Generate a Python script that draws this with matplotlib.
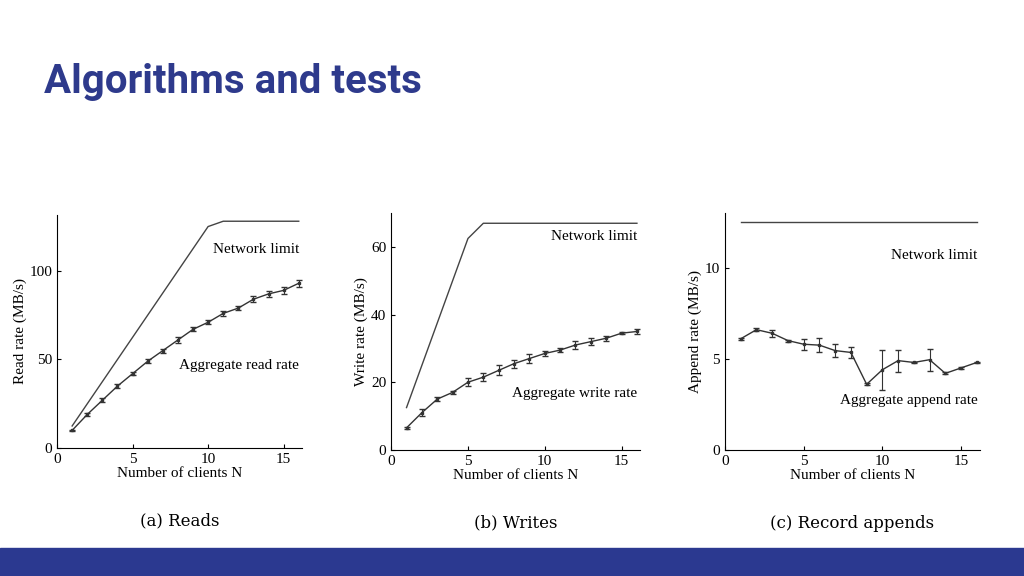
import matplotlib
matplotlib.use("Agg")
import matplotlib.pyplot as plt

clients = list(range(1, 17))

# (a) reads
read_rate = [10, 19, 27, 35, 42, 49, 55, 61, 67, 71, 76, 79, 84, 87, 89, 93]
read_err = [0.5, 0.8, 1, 1.2, 1, 1, 1.2, 1.5, 1.2, 1, 1.2, 1.2, 1.8, 1.5, 1.8, 2]
read_net_x = [1, 10, 11, 16]
read_net_y = [12.5, 125, 128, 128]

# (b) writes
write_rate = [6.5, 11, 15, 17, 20, 21.5, 23.5, 25.5, 27, 28.5, 29.5, 31, 32, 33, 34.5, 35]
write_err = [0.3, 1, 0.6, 0.5, 1.2, 1.2, 1.5, 1.2, 1.2, 0.8, 0.6, 1.2, 1, 0.8, 0.3, 0.6]
write_net_x = [1, 5, 6, 16]
write_net_y = [12.5, 62.5, 67, 67]

# (c) record appends
append_rate = [6.1, 6.6, 6.4, 6.0, 5.8, 5.75, 5.45, 5.35, 3.6, 4.4, 4.9, 4.8, 4.95, 4.2, 4.5, 4.8]
append_err = [0.05, 0.1, 0.2, 0.05, 0.3, 0.4, 0.35, 0.3, 0.05, 1.1, 0.6, 0.05, 0.6, 0.05, 0.05, 0.05]
append_net_x = [1, 16]
append_net_y = [12.5, 12.5]

plt.rcParams["font.family"] = "Liberation Serif"
fig = plt.figure(figsize=(10.24, 5.76), dpi=100)
fig.patch.set_facecolor("white")

fig.text(0.043, 0.857, "Algorithms and tests", fontsize=29, fontweight="bold",
         color="#2e3a8c", family="Roboto", va="center")
fig.patches.append(plt.Rectangle((0, 0), 1, 28 / 576, transform=fig.transFigure,
                                 color="#2b3990", zorder=0))

panels = [
    ([0.0557, 0.222, 0.239, 0.405], read_rate, read_err, read_net_x, read_net_y,
     (0, 131.6), [0, 50, 100], "Read rate (MB/s)", "Aggregate read rate", 0.355,
     0.85, "(a) Reads"),
    ([0.382, 0.219, 0.243, 0.411], write_rate, write_err, write_net_x, write_net_y,
     (0, 70), [0, 20, 40, 60], "Write rate (MB/s)", "Aggregate write rate", 0.24,
     0.9, "(b) Writes"),
    ([0.708, 0.219, 0.249, 0.411], append_rate, append_err, append_net_x, append_net_y,
     (0, 13), [0, 5, 10], "Append rate (MB/s)", "Aggregate append rate", 0.21,
     0.82, "(c) Record appends"),
]

for rect, y, err, nx, ny, ylim, yticks, ylabel, agg, agg_y, net_y, cap in panels:
    ax = fig.add_axes(rect)
    ax.plot(nx, ny, color="#444444", lw=1)
    ax.errorbar(clients, y, yerr=err, color="#333333", lw=1, capsize=2,
                elinewidth=0.8, marker="s", markersize=1.5)
    ax.set_xlim(0, 16.2)
    ax.set_ylim(*ylim)
    ax.set_xticks([0, 5, 10, 15])
    ax.set_yticks(yticks)
    ax.spines["top"].set_visible(False)
    ax.spines["right"].set_visible(False)
    ax.tick_params(direction="in", labelsize=11, length=3)
    ax.set_xlabel("Number of clients N", fontsize=11, labelpad=1)
    ax.set_ylabel(ylabel, fontsize=11, labelpad=2)
    ax.text(0.99, net_y, "Network limit", transform=ax.transAxes, ha="right",
            va="center", fontsize=11)
    ax.text(0.99, agg_y, agg, transform=ax.transAxes, ha="right",
            va="center", fontsize=11)
    ax.text(0.5, -0.31, cap, transform=ax.transAxes, ha="center", va="center",
            fontsize=12, family="DejaVu Serif")

fig.savefig("out.png", dpi=100)
